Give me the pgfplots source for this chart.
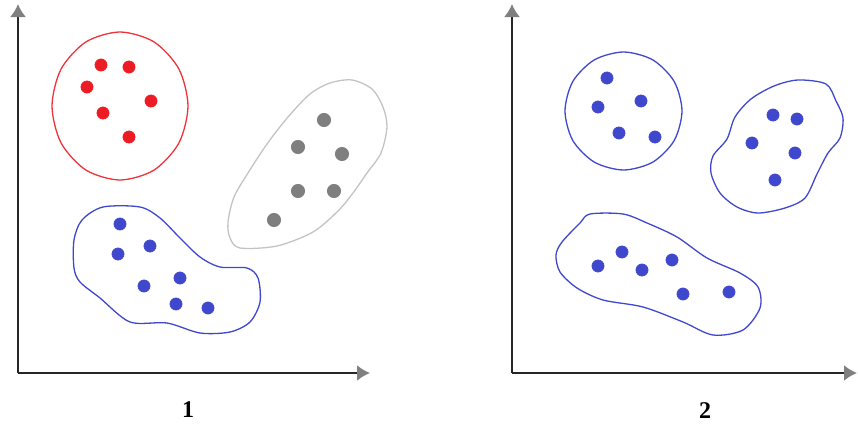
\documentclass[border=0pt]{standalone}
\usepackage{pgfplots}
\pgfplotsset{compat=1.18}
\usepackage{fontspec}
\setmainfont{Liberation Serif}
\usetikzlibrary{arrows.meta}

\definecolor{cred}{HTML}{ED1C24}
\definecolor{cgray}{HTML}{7F7F7F}
\definecolor{cgrayline}{HTML}{C3C3C3}
\definecolor{cblue}{HTML}{3F48CC}

% 1 data unit = 1 pixel of the reference = 0.5pt
\pgfplotsset{
  panel/.style={
    x=0.5pt, y=0.5pt,
    anchor=south west,
    axis lines=left,
    axis line style={line width=1pt, black!85,
      -{Latex[length=6.5pt,width=8pt,color=gray]}},
    xtick=\empty, ytick=\empty,
    clip=false,
    ymin=57, ymax=426,
    xlabel style={font=\fontsize{12}{14}\selectfont\bfseries, anchor=center},
  },
  dots/.style={only marks, mark=*, mark size=3pt},
  blob/.style={no marks, smooth cycle, line width=0.65pt},
}

\begin{document}
\begin{tikzpicture}
\useasboundingbox (0,0) rectangle (429pt,215pt);

% ---- panel 1 ----
\begin{axis}[panel, at={(9pt,28.5pt)}, xmin=18, xmax=370,
  xlabel={1}, xlabel style={at={(axis cs:188,57)}, yshift=-18.5pt}]
  % red cluster
  \addplot[blob, cred!90] coordinates {
    (188,324) (178.9,361) (154,388.1) (120,398) (86,388.1) (61.1,361)
    (52,324) (61.1,287) (86,259.9) (120,250) (154,259.9) (178.9,287)};
  \addplot[dots, cred] coordinates {
    (101,365) (129,363) (87,343) (151,329) (103,317) (129,293)};
  % gray cluster
  \addplot[blob, cgrayline] coordinates {
    (352,350) (372,341) (383,323) (387,303) (381,277) (367,257)
    (353,237) (338,219) (313,198) (277,184) (240,182) (230,192) (228,208)
    (234,233) (248,257) (267,286) (288,313) (310,336) (330,347)};
  \addplot[dots, cgray, mark size=3.3pt] coordinates {
    (324,310) (298,283) (342,276) (298,239) (334,239) (274,210)};
  % blue cluster
  \addplot[blob, cblue] coordinates {
    (103,223) (140,223) (160,212) (180,192) (200,173) (220,163) (247,162)
    (258,152) (260,128) (250,108) (230,98) (200,97) (167,107) (130,108)
    (100,132) (80,148) (74,162) (74,190) (82,210)};
  \addplot[dots, cblue] coordinates {
    (120,206) (118,176) (150,184) (180,152) (144,144) (176,126) (208,122)};
\end{axis}

% ---- panel 2 ----
\begin{axis}[panel, at={(256pt,28.5pt)}, xmin=512, xmax=857,
  xlabel={2}, xlabel style={at={(axis cs:705,57)}, yshift=-19pt}]
  \addplot[blob, cblue] coordinates {
    (682,319) (674.2,348.5) (652.8,370.1) (623.5,378) (594.3,370.1) (572.8,348.5)
    (565,319) (572.8,289.5) (594.3,267.9) (623.5,260) (652.8,267.9) (674.2,289.5)};
  \addplot[dots, cblue] coordinates {
    (607,352) (598,323) (641,329) (619,297) (655,293)};
  \addplot[blob, cblue] coordinates {
    (798,350) (826,346) (836,329) (843,312) (840,292) (828,277)
    (817,256) (805,232) (785,222) (758,217) (737,223) (720,237) (711,257)
    (713,274) (727,291) (735,313) (751,331) (774,344)};
  \addplot[dots, cblue] coordinates {
    (773,315) (797,311) (752,287) (795,277) (775,250)};
  \addplot[blob, cblue] coordinates {
    (590,216) (623,216) (647,207) (677,193) (707,172) (740,157) (758,143)
    (760,122) (743,100) (713,95) (683,108) (643,123) (603,130)
    (577,142) (560,158) (556,175) (562,188) (580,207)};
  \addplot[dots, cblue] coordinates {
    (598,164) (622,178) (642,160) (672,170) (683,136) (729,138)};
\end{axis}
\end{tikzpicture}
\end{document}
